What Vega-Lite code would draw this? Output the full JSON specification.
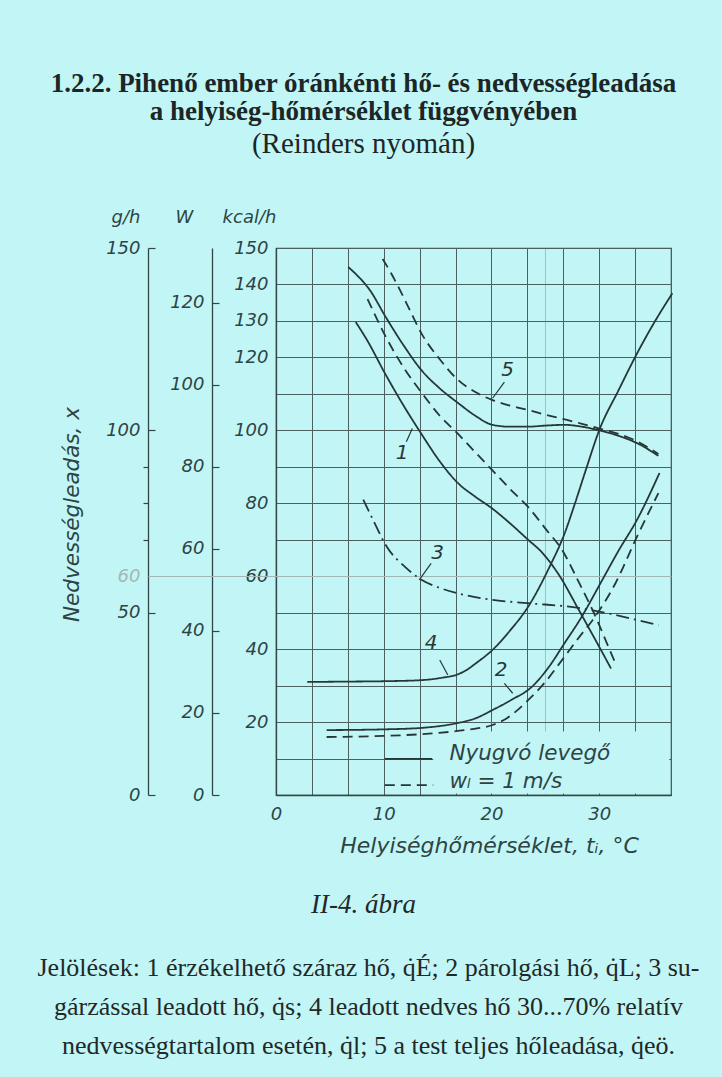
{
  "$schema": "https://vega.github.io/schema/vega-lite/v6.json",
  "width": 395,
  "height": 547,
  "autosize": {"type": "none"},
  "padding": {"left": 276, "top": 248, "right": 51, "bottom": 282},
  "background": "#c2f6f6",
  "title": {
    "text": ["1.2.2. Pihenő ember óránkénti hő- és nedvességleadása", "a helyiség-hőmérséklet függvényében"],
    "subtitle": "(Reinders nyomán)",
    "anchor": "middle",
    "frame": "group",
    "dx": -110,
    "offset": 48,
    "font": "Liberation Serif",
    "fontSize": 27,
    "fontWeight": "bold",
    "color": "#1c2626",
    "lineHeight": 28,
    "subtitleFont": "Liberation Serif",
    "subtitleFontSize": 29,
    "subtitleColor": "#1c2626",
    "subtitlePadding": 4
  },
  "config": {
    "view": {"stroke": "#3b4d4d", "strokeWidth": 1.2},
    "axis": {
      "labelFont": "DejaVu Sans",
      "labelFontStyle": "italic",
      "labelFontWeight": 300,
      "labelFontSize": 18,
      "labelColor": "#2e4444",
      "labelFlush": false,
      "labelOverlap": false,
      "titleFont": "DejaVu Sans",
      "titleFontStyle": "italic",
      "titleFontWeight": 300,
      "titleFontSize": 18,
      "titleColor": "#2e4444",
      "domainColor": "#334545",
      "domainWidth": 1.3,
      "tickColor": "#334545",
      "tickWidth": 1.2,
      "gridColor": "#4d6060",
      "gridOpacity": 1,
      "gridWidth": 1
    }
  },
  "datasets": {
    "curves": [
      {"c": "1", "s": "Nyugvó levegő", "t": 7.4, "q": 129.7},
      {"c": "1", "s": "Nyugvó levegő", "t": 8.5, "q": 124.5},
      {"c": "1", "s": "Nyugvó levegő", "t": 10.1, "q": 115.7},
      {"c": "1", "s": "Nyugvó levegő", "t": 11.8, "q": 107},
      {"c": "1", "s": "Nyugvó levegő", "t": 13.5, "q": 99},
      {"c": "1", "s": "Nyugvó levegő", "t": 15.2, "q": 91.5},
      {"c": "1", "s": "Nyugvó levegő", "t": 16.9, "q": 85.5},
      {"c": "1", "s": "Nyugvó levegő", "t": 18.5, "q": 81.8},
      {"c": "1", "s": "Nyugvó levegő", "t": 20.1, "q": 78.5},
      {"c": "1", "s": "Nyugvó levegő", "t": 21.8, "q": 74.3},
      {"c": "1", "s": "Nyugvó levegő", "t": 23.4, "q": 70},
      {"c": "1", "s": "Nyugvó levegő", "t": 24.6, "q": 66.8},
      {"c": "1", "s": "Nyugvó levegő", "t": 26.3, "q": 60.2},
      {"c": "1", "s": "Nyugvó levegő", "t": 28.1, "q": 50.8},
      {"c": "1", "s": "Nyugvó levegő", "t": 29.6, "q": 42.8},
      {"c": "1", "s": "Nyugvó levegő", "t": 31.1, "q": 34.7},
      {"c": "1", "s": "wₗ = 1 m/s", "t": 8.5, "q": 136},
      {"c": "1", "s": "wₗ = 1 m/s", "t": 10.2, "q": 125.6},
      {"c": "1", "s": "wₗ = 1 m/s", "t": 11.9, "q": 117},
      {"c": "1", "s": "wₗ = 1 m/s", "t": 13.6, "q": 110},
      {"c": "1", "s": "wₗ = 1 m/s", "t": 15.2, "q": 104},
      {"c": "1", "s": "wₗ = 1 m/s", "t": 16.9, "q": 99},
      {"c": "1", "s": "wₗ = 1 m/s", "t": 18.5, "q": 94},
      {"c": "1", "s": "wₗ = 1 m/s", "t": 20.1, "q": 89},
      {"c": "1", "s": "wₗ = 1 m/s", "t": 21.7, "q": 84},
      {"c": "1", "s": "wₗ = 1 m/s", "t": 23.4, "q": 79},
      {"c": "1", "s": "wₗ = 1 m/s", "t": 25.1, "q": 72.7},
      {"c": "1", "s": "wₗ = 1 m/s", "t": 26.6, "q": 67},
      {"c": "1", "s": "wₗ = 1 m/s", "t": 28, "q": 59},
      {"c": "1", "s": "wₗ = 1 m/s", "t": 29.8, "q": 48},
      {"c": "1", "s": "wₗ = 1 m/s", "t": 30.9, "q": 40.3},
      {"c": "1", "s": "wₗ = 1 m/s", "t": 31.6, "q": 35.5},
      {"c": "2", "s": "Nyugvó levegő", "t": 4.7, "q": 17.8},
      {"c": "2", "s": "Nyugvó levegő", "t": 10, "q": 18},
      {"c": "2", "s": "Nyugvó levegő", "t": 13.5, "q": 18.4},
      {"c": "2", "s": "Nyugvó levegő", "t": 16.8, "q": 19.7},
      {"c": "2", "s": "Nyugvó levegő", "t": 18.5, "q": 21},
      {"c": "2", "s": "Nyugvó levegő", "t": 20.1, "q": 23.3},
      {"c": "2", "s": "Nyugvó levegő", "t": 21.8, "q": 26},
      {"c": "2", "s": "Nyugvó levegő", "t": 23.8, "q": 29.8},
      {"c": "2", "s": "Nyugvó levegő", "t": 25.3, "q": 35},
      {"c": "2", "s": "Nyugvó levegő", "t": 26.8, "q": 41.7},
      {"c": "2", "s": "Nyugvó levegő", "t": 28.3, "q": 48.5},
      {"c": "2", "s": "Nyugvó levegő", "t": 30.2, "q": 58.5},
      {"c": "2", "s": "Nyugvó levegő", "t": 31.8, "q": 67},
      {"c": "2", "s": "Nyugvó levegő", "t": 33.5, "q": 75.4},
      {"c": "2", "s": "Nyugvó levegő", "t": 35.6, "q": 88.3},
      {"c": "2", "s": "wₗ = 1 m/s", "t": 4.7, "q": 15.9},
      {"c": "2", "s": "wₗ = 1 m/s", "t": 10, "q": 16.2},
      {"c": "2", "s": "wₗ = 1 m/s", "t": 15, "q": 17},
      {"c": "2", "s": "wₗ = 1 m/s", "t": 18, "q": 18},
      {"c": "2", "s": "wₗ = 1 m/s", "t": 20.1, "q": 19.2},
      {"c": "2", "s": "wₗ = 1 m/s", "t": 21.4, "q": 21},
      {"c": "2", "s": "wₗ = 1 m/s", "t": 23.4, "q": 26},
      {"c": "2", "s": "wₗ = 1 m/s", "t": 25, "q": 31},
      {"c": "2", "s": "wₗ = 1 m/s", "t": 26.8, "q": 38},
      {"c": "2", "s": "wₗ = 1 m/s", "t": 28.2, "q": 43.5},
      {"c": "2", "s": "wₗ = 1 m/s", "t": 29.4, "q": 48},
      {"c": "2", "s": "wₗ = 1 m/s", "t": 31.5, "q": 58},
      {"c": "2", "s": "wₗ = 1 m/s", "t": 33.5, "q": 70.8},
      {"c": "2", "s": "wₗ = 1 m/s", "t": 35.5, "q": 82.8},
      {"c": "3", "s": "sugárzás", "t": 8.1, "q": 81},
      {"c": "3", "s": "sugárzás", "t": 9, "q": 75.5},
      {"c": "3", "s": "sugárzás", "t": 10.3, "q": 68},
      {"c": "3", "s": "sugárzás", "t": 12, "q": 62.5},
      {"c": "3", "s": "sugárzás", "t": 13.5, "q": 59},
      {"c": "3", "s": "sugárzás", "t": 15.2, "q": 56.8},
      {"c": "3", "s": "sugárzás", "t": 16.9, "q": 55.3},
      {"c": "3", "s": "sugárzás", "t": 20.1, "q": 53.5},
      {"c": "3", "s": "sugárzás", "t": 23.4, "q": 52.6},
      {"c": "3", "s": "sugárzás", "t": 28.1, "q": 51.3},
      {"c": "3", "s": "sugárzás", "t": 30.8, "q": 49.8},
      {"c": "3", "s": "sugárzás", "t": 33.5, "q": 48},
      {"c": "3", "s": "sugárzás", "t": 35.5, "q": 46.6},
      {"c": "4", "s": "Nyugvó levegő", "t": 2.9, "q": 31},
      {"c": "4", "s": "Nyugvó levegő", "t": 6.7, "q": 31.1},
      {"c": "4", "s": "Nyugvó levegő", "t": 10, "q": 31.2},
      {"c": "4", "s": "Nyugvó levegő", "t": 13.5, "q": 31.5},
      {"c": "4", "s": "Nyugvó levegő", "t": 15.5, "q": 32.2},
      {"c": "4", "s": "Nyugvó levegő", "t": 16.8, "q": 33},
      {"c": "4", "s": "Nyugvó levegő", "t": 17.7, "q": 34.3},
      {"c": "4", "s": "Nyugvó levegő", "t": 18.5, "q": 36},
      {"c": "4", "s": "Nyugvó levegő", "t": 20.1, "q": 39.8},
      {"c": "4", "s": "Nyugvó levegő", "t": 21.7, "q": 45},
      {"c": "4", "s": "Nyugvó levegő", "t": 23.4, "q": 51.6},
      {"c": "4", "s": "Nyugvó levegő", "t": 25.4, "q": 62.6},
      {"c": "4", "s": "Nyugvó levegő", "t": 26.8, "q": 71.8},
      {"c": "4", "s": "Nyugvó levegő", "t": 27.7, "q": 79.5},
      {"c": "4", "s": "Nyugvó levegő", "t": 28.8, "q": 89.5},
      {"c": "4", "s": "Nyugvó levegő", "t": 30, "q": 100},
      {"c": "4", "s": "Nyugvó levegő", "t": 31.8, "q": 111},
      {"c": "4", "s": "Nyugvó levegő", "t": 33.5, "q": 121},
      {"c": "4", "s": "Nyugvó levegő", "t": 35.2, "q": 130},
      {"c": "4", "s": "Nyugvó levegő", "t": 36.8, "q": 137.6},
      {"c": "5", "s": "Nyugvó levegő", "t": 6.7, "q": 144.8},
      {"c": "5", "s": "Nyugvó levegő", "t": 7.7, "q": 142},
      {"c": "5", "s": "Nyugvó levegő", "t": 8.7, "q": 138.5},
      {"c": "5", "s": "Nyugvó levegő", "t": 10.2, "q": 131},
      {"c": "5", "s": "Nyugvó levegő", "t": 11.8, "q": 123.5},
      {"c": "5", "s": "Nyugvó levegő", "t": 13.5, "q": 116.5},
      {"c": "5", "s": "Nyugvó levegő", "t": 15.2, "q": 111.5},
      {"c": "5", "s": "Nyugvó levegő", "t": 16.9, "q": 107.5},
      {"c": "5", "s": "Nyugvó levegő", "t": 18.5, "q": 104},
      {"c": "5", "s": "Nyugvó levegő", "t": 20.1, "q": 101.5},
      {"c": "5", "s": "Nyugvó levegő", "t": 21.7, "q": 101},
      {"c": "5", "s": "Nyugvó levegő", "t": 23.4, "q": 101},
      {"c": "5", "s": "Nyugvó levegő", "t": 25, "q": 101.3},
      {"c": "5", "s": "Nyugvó levegő", "t": 26.8, "q": 101.5},
      {"c": "5", "s": "Nyugvó levegő", "t": 28.4, "q": 101},
      {"c": "5", "s": "Nyugvó levegő", "t": 30, "q": 100},
      {"c": "5", "s": "Nyugvó levegő", "t": 31.8, "q": 98.5},
      {"c": "5", "s": "Nyugvó levegő", "t": 33.5, "q": 96.5},
      {"c": "5", "s": "Nyugvó levegő", "t": 35.5, "q": 93},
      {"c": "5", "s": "wₗ = 1 m/s", "t": 9.9, "q": 147},
      {"c": "5", "s": "wₗ = 1 m/s", "t": 10.7, "q": 143},
      {"c": "5", "s": "wₗ = 1 m/s", "t": 11.5, "q": 138.5},
      {"c": "5", "s": "wₗ = 1 m/s", "t": 12.5, "q": 132.5},
      {"c": "5", "s": "wₗ = 1 m/s", "t": 13.5, "q": 126.6},
      {"c": "5", "s": "wₗ = 1 m/s", "t": 15.2, "q": 119.5},
      {"c": "5", "s": "wₗ = 1 m/s", "t": 16.9, "q": 113.8},
      {"c": "5", "s": "wₗ = 1 m/s", "t": 18.5, "q": 110.5},
      {"c": "5", "s": "wₗ = 1 m/s", "t": 20.1, "q": 108.3},
      {"c": "5", "s": "wₗ = 1 m/s", "t": 21.7, "q": 106.8},
      {"c": "5", "s": "wₗ = 1 m/s", "t": 23.4, "q": 105.6},
      {"c": "5", "s": "wₗ = 1 m/s", "t": 25, "q": 104.3},
      {"c": "5", "s": "wₗ = 1 m/s", "t": 26.8, "q": 103},
      {"c": "5", "s": "wₗ = 1 m/s", "t": 28.4, "q": 101.8},
      {"c": "5", "s": "wₗ = 1 m/s", "t": 30, "q": 100.5},
      {"c": "5", "s": "wₗ = 1 m/s", "t": 31.8, "q": 99},
      {"c": "5", "s": "wₗ = 1 m/s", "t": 33.5, "q": 97},
      {"c": "5", "s": "wₗ = 1 m/s", "t": 35.5, "q": 93.5}
    ],
    "labels": [
      {"n": "5", "t": 21.5, "q": 116.5},
      {"n": "1", "t": 11.7, "q": 93.8},
      {"n": "3", "t": 15.0, "q": 66.3},
      {"n": "4", "t": 14.4, "q": 41.6},
      {"n": "2", "t": 20.9, "q": 34.3}
    ],
    "leaders": [
      {"n": "5", "t": 21.2, "q": 113.2, "t2": 20.1, "q2": 108.8},
      {"n": "1", "t": 12.1, "q": 96.9, "t2": 12.65, "q2": 100.5},
      {"n": "3", "t": 14.4, "q": 63.5, "t2": 13.3, "q2": 59},
      {"n": "4", "t": 15.2, "q": 37, "t2": 15.95, "q2": 32.9},
      {"n": "2", "t": 21.2, "q": 30.6, "t2": 21.97, "q2": 27.9}
    ],
    "legendbox": [
      {"t": 14.6, "t2": 36.5, "q": 0.4, "q2": 17.4}
    ],
    "legend": [
      {"s": "Nyugvó levegő", "t": 10.1, "t2": 14.5, "q": 9.9, "tl": 16.1, "ql": 11.3},
      {"s": "wₗ = 1 m/s", "t": 10.1, "t2": 14.6, "q": 2.7, "tl": 16.1, "ql": 3.6}
    ],
    "zero": [
      {"v": 0}
    ]
  },
  "layer": [
    {
      "data": {"name": "zero"},
      "mark": {"type": "point", "opacity": 0},
      "encoding": {
        "x": {
          "field": "v", "type": "quantitative",
          "scale": {"domain": [0, 36.667], "nice": false, "zero": false},
          "axis": {
            "orient": "bottom",
            "values": [0, 3.3333, 6.6667, 10, 13.3333, 16.6667, 20, 23.3333, 25, 26.6667, 30, 33.3333, 36.667],
            "labelExpr": "abs(datum.value - 10*round(datum.value/10)) < 0.01 ? format(datum.value, 'd') : ''",
            "grid": true,
            "gridColor": {"condition": {"test": "datum.value == 25", "value": "#a9bdbd"}, "value": "#4d6060"},
            "ticks": false,
            "domain": true,
            "labelPadding": 10,
            "title": "Helyiséghőmérséklet, tᵢ, °C",
            "titleFontSize": 22,
            "titleX": 213,
            "titleY": 57,
            "titleAlign": "center",
            "titleBaseline": "alphabetic",
            "titleAnchor": null
          }
        },
        "y": {
          "field": "v", "type": "quantitative",
          "scale": {"domain": [0, 150], "nice": false},
          "axis": {
            "orient": "left",
            "values": [0, 10, 20, 30, 40, 50, 60, 70, 80, 90, 100, 110, 120, 130, 140, 150],
            "labelExpr": "(datum.value == 0 || datum.value == 110 || datum.value == 10 || datum.value == 30 || datum.value == 50 || datum.value == 70 || datum.value == 90) ? '' : format(datum.value, 'd')",
            "grid": true,
            "ticks": false,
            "domain": true,
            "labelPadding": 8,
            "title": "kcal/h",
            "titleAngle": 0,
            "titleX": -27,
            "titleY": -26,
            "titleAlign": "center",
            "titleBaseline": "alphabetic",
            "titleAnchor": null
          }
        }
      }
    },
    {
      "layer": [
        {
          "data": {"name": "legendbox"},
          "mark": {"type": "rect", "color": "#c2f6f6"},
          "encoding": {
            "x": {"field": "t", "type": "quantitative", "scale": {"domain": [0, 36.667], "nice": false, "zero": false}, "axis": null},
            "x2": {"field": "t2"},
            "y": {"field": "q", "type": "quantitative", "scale": {"domain": [0, 150], "nice": false}, "axis": null},
            "y2": {"field": "q2"}
          }
        },
        {
          "data": {"name": "curves"},
          "mark": {"type": "line", "interpolate": "monotone", "strokeWidth": 1.8, "color": "#263737"},
          "encoding": {
            "x": {"field": "t", "type": "quantitative", "scale": {"domain": [0, 36.667], "nice": false, "zero": false}, "axis": null},
            "y": {"field": "q", "type": "quantitative", "scale": {"domain": [0, 150], "nice": false}, "axis": null},
            "strokeDash": {
              "field": "s", "type": "nominal",
              "scale": {"domain": ["Nyugvó levegő", "wₗ = 1 m/s", "sugárzás"], "range": [[1, 0], [10, 6], [13, 5, 2, 5]]},
              "legend": null
            },
            "detail": {"field": "c"}
          }
        },
        {
          "data": {"name": "legend"},
          "mark": {"type": "rule", "strokeWidth": 1.8, "color": "#263737"},
          "encoding": {
            "x": {"field": "t", "type": "quantitative", "scale": {"domain": [0, 36.667], "nice": false, "zero": false}, "axis": null},
            "x2": {"field": "t2"},
            "y": {"field": "q", "type": "quantitative", "scale": {"domain": [0, 150], "nice": false}, "axis": null},
            "strokeDash": {"field": "s", "type": "nominal", "scale": {"domain": ["Nyugvó levegő", "wₗ = 1 m/s", "sugárzás"], "range": [[1, 0], [10, 6], [13, 5, 2, 5]]}, "legend": null}
          }
        },
        {
          "data": {"name": "legend"},
          "mark": {"type": "text", "align": "left", "baseline": "middle", "font": "DejaVu Sans", "fontStyle": "italic", "fontWeight": 300, "fontSize": 21.5, "color": "#2e4444"},
          "encoding": {
            "x": {"field": "tl", "type": "quantitative", "scale": {"domain": [0, 36.667], "nice": false, "zero": false}, "axis": null},
            "y": {"field": "ql", "type": "quantitative", "scale": {"domain": [0, 150], "nice": false}, "axis": null},
            "text": {"field": "s"}
          }
        },
        {
          "data": {"name": "leaders"},
          "mark": {"type": "rule", "strokeWidth": 1.2, "color": "#263737"},
          "encoding": {
            "x": {"field": "t", "type": "quantitative", "scale": {"domain": [0, 36.667], "nice": false, "zero": false}, "axis": null},
            "x2": {"field": "t2"},
            "y": {"field": "q", "type": "quantitative", "scale": {"domain": [0, 150], "nice": false}, "axis": null},
            "y2": {"field": "q2"}
          }
        },
        {
          "data": {"name": "labels"},
          "mark": {"type": "text", "align": "center", "baseline": "middle", "font": "DejaVu Sans", "fontStyle": "italic", "fontWeight": 300, "fontSize": 20, "color": "#263737"},
          "encoding": {
            "x": {"field": "t", "type": "quantitative", "scale": {"domain": [0, 36.667], "nice": false, "zero": false}, "axis": null},
            "y": {"field": "q", "type": "quantitative", "scale": {"domain": [0, 150], "nice": false}, "axis": null},
            "text": {"field": "n"}
          }
        }
      ]
    },
    {
      "data": {"name": "zero"},
      "mark": {"type": "point", "opacity": 0},
      "encoding": {
        "y": {
          "field": "v", "type": "quantitative",
          "scale": {"domain": [0, 133.4], "nice": false},
          "axis": {
            "orient": "left",
            "offset": 64,
            "values": [0, 20, 40, 60, 80, 100, 120],
            "format": "d",
            "tickSize": -7,
            "labelPadding": 15,
            "grid": false,
            "domain": true,
            "title": "W",
            "titleAngle": 0,
            "titleX": -28,
            "titleY": -26,
            "titleAlign": "center",
            "titleBaseline": "alphabetic",
            "titleAnchor": null
          }
        }
      }
    },
    {
      "data": {"name": "zero"},
      "mark": {"type": "point", "opacity": 0},
      "encoding": {
        "y": {
          "field": "v", "type": "quantitative",
          "scale": {"domain": [0, 150], "nice": false},
          "axis": {
            "orient": "left",
            "offset": 128,
            "values": [0, 50, 60, 100, 150],
            "format": "d",
            "ticks": false,
            "labelPadding": 8,
            "labelColor": {"condition": {"test": "datum.value == 60", "value": "#a3b6b6"}, "value": "#2e4444"},
            "grid": false,
            "domain": true,
            "title": "g/h",
            "titleAngle": 0,
            "titleX": -8,
            "titleY": -26,
            "titleAlign": "right",
            "titleBaseline": "alphabetic",
            "titleAnchor": null
          }
        }
      }
    },
    {
      "data": {"name": "zero"},
      "mark": {"type": "point", "opacity": 0},
      "encoding": {
        "y": {
          "field": "v", "type": "quantitative",
          "scale": {"domain": [0, 150], "nice": false},
          "axis": {
            "orient": "left",
            "offset": 128,
            "values": [0, 50, 60, 70, 80, 90, 100, 150],
            "labels": false,
            "ticks": true,
            "tickSize": {"condition": [{"test": "datum.value == 60", "value": -523}, {"test": "datum.value > 65 && datum.value < 95", "value": 5}], "value": -7},
            "tickColor": {"condition": {"test": "datum.value == 60", "value": "#a3b6b6"}, "value": "#334545"},
            "grid": false,
            "domain": false,
            "title": "Nedvességleadás, x",
            "titleFontSize": 21.5,
            "titleAngle": -90,
            "titleX": -76,
            "titleY": 266,
            "titleAlign": "center",
            "titleBaseline": "middle",
            "titleAnchor": null
          }
        }
      }
    },
    {
      "data": {"name": "zero"},
      "mark": {"type": "point", "opacity": 0},
      "encoding": {
        "x": {
          "field": "v", "type": "quantitative",
          "scale": {"domain": [0, 36.667], "nice": false, "zero": false},
          "axis": {
            "orient": "bottom",
            "labels": false, "ticks": false, "domain": false, "grid": false,
            "title": "II-4. ábra",
            "titleFont": "Liberation Serif",
            "titleFontStyle": "italic",
            "titleFontWeight": "normal",
            "titleFontSize": 27,
            "titleColor": "#222828",
            "titleX": 87,
            "titleY": 117,
            "titleAlign": "center",
            "titleBaseline": "alphabetic",
            "titleAnchor": null
          }
        },
        "y": {"field": "v", "type": "quantitative", "scale": {"domain": [0, 150], "nice": false}, "axis": null}
      }
    },
    {
      "data": {"name": "zero"},
      "mark": {"type": "point", "opacity": 0},
      "encoding": {
        "x": {
          "field": "v", "type": "quantitative",
          "scale": {"domain": [0, 36.667], "nice": false, "zero": false},
          "axis": {
            "orient": "bottom",
            "labels": false, "ticks": false, "domain": false, "grid": false,
            "title": [
              "Jelölések: 1 érzékelhető száraz hő, q̇É; 2 párolgási hő, q̇L; 3 su-",
              "gárzással leadott hő, q̇s; 4 leadott nedves hő 30...70% relatív",
              "nedvességtartalom esetén, q̇l; 5 a test teljes hőleadása, q̇eö."
            ],
            "titleFont": "Liberation Serif",
            "titleFontStyle": "normal",
            "titleFontWeight": "normal",
            "titleFontSize": 26,
            "titleLineHeight": 39,
            "titleColor": "#222828",
            "titleX": 92,
            "titleY": 180,
            "titleAlign": "center",
            "titleBaseline": "alphabetic",
            "titleAnchor": null
          }
        },
        "y": {"field": "v", "type": "quantitative", "scale": {"domain": [0, 150], "nice": false}, "axis": null}
      }
    }
  ],
  "resolve": {"scale": {"y": "independent"}, "axis": {"x": "independent", "y": "independent"}}
}
